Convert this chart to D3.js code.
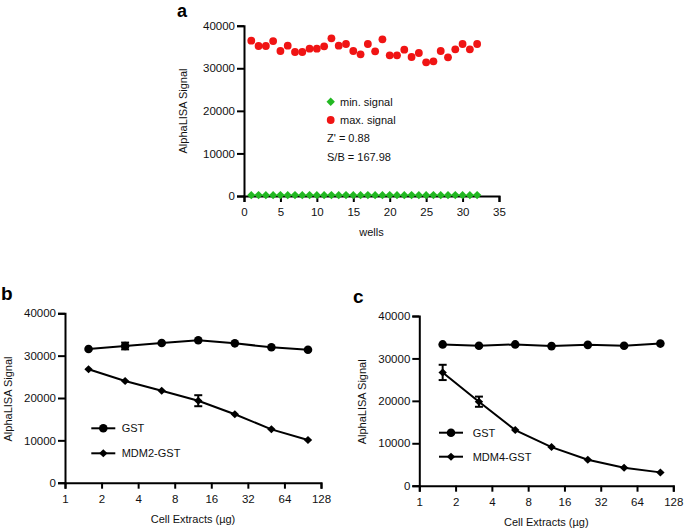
<!DOCTYPE html>
<html><head><meta charset="utf-8">
<script src="https://cdn.jsdelivr.net/npm/d3@7"></script>
<style>
html,body{margin:0;padding:0;background:#fff;}
svg text{font-family:"Liberation Sans",Arial,Helvetica,sans-serif;fill:#111;}
</style></head>
<body>
<svg id="c" width="685" height="529"></svg>
<script>
// ---------- data ----------
const wells = d3.range(1, 33);
const maxSignal = [36480,35230,35230,36400,34060,35310,33820,33820,34610,34610,35150,37030,35310,35700,34060,33280,35700,33980,36800,33040,33040,34370,32650,33590,31400,31630,34060,32570,34450,35700,34450,35700];
const minSignal = [205,210,200,205,208,202,206,204,207,203,205,209,201,206,204,205,207,203,205,208,202,204,206,205,203,207,205,204,206,203,205,207];
const yTicks = [0,10000,20000,30000,40000];
const wellTicks = [0,5,10,15,20,25,30,35];

const extracts = [1.5625, 3.125, 6.25, 12.5, 25, 50, 100];
const extractTicks = [1,2,4,8,16,32,64,128];
const bGST = [31570,32280,32990,33620,32910,31970,31400];
const bGSTerr = [0,800,0,0,0,0,0];
const bMDM2 = [26780,24010,21720,19360,16150,12600,10080];
const bMDM2err = [0,0,0,1300,0,0,0];
const cGST = [33300,33000,33300,32900,33200,33000,33500];
const cGSTerr = [0,0,0,0,0,0,0];
const cMDM4 = [26700,19800,13100,9100,6130,4240,3140];
const cMDM4err = [1800,1200,0,0,0,0,0];

const svg = d3.select("#c");
const FONT = 11.5;

function diamondPath(w, h){ return `M0,${-h}L${w},0L0,${h}L${-w},0Z`; }

function yAxisDraw(g, y, x0){
  const ax = g.append("g").attr("transform",`translate(${x0},0)`)
    .call(d3.axisLeft(y).tickValues(yTicks).tickSize(7).tickPadding(2).tickFormat(d3.format("d")));
  ax.select(".domain").attr("stroke","#000").attr("stroke-width",2);
  ax.selectAll(".tick line").attr("stroke","#000").attr("stroke-width",2);
  ax.selectAll(".tick text").attr("font-size",FONT).attr("fill","#111")
    .attr("font-family","Liberation Sans, Arial, sans-serif");
  return ax;
}
function xAxisDraw(g, x, y0, ticks, fmt){
  const ax = g.append("g").attr("transform",`translate(0,${y0})`)
    .call(d3.axisBottom(x).tickValues(ticks).tickSize(6).tickPadding(6).tickFormat(fmt));
  ax.select(".domain").attr("stroke","#000").attr("stroke-width",2);
  ax.selectAll(".tick line").attr("stroke","#000").attr("stroke-width",2);
  ax.selectAll(".tick text").attr("font-size",FONT).attr("fill","#111")
    .attr("font-family","Liberation Sans, Arial, sans-serif");
  return ax;
}

// ---------- panel a ----------
{
  const g = svg.append("g");
  const x = d3.scaleLinear().domain([0,35]).range([244,499]);
  const y = d3.scaleLinear().domain([0,40000]).range([196,25.7]);
  xAxisDraw(g, x, y(0), wellTicks, d3.format("d"));
  yAxisDraw(g, y, x(0));
  g.append("g").selectAll("path").data(wells).join("path")
    .attr("d", diamondPath(4.2,4.2))
    .attr("transform",(d,i)=>`translate(${x(d)},${y(minSignal[i])})`)
    .attr("fill","#22b822");
  g.append("g").selectAll("circle").data(wells).join("circle")
    .attr("cx",d=>x(d)).attr("cy",(d,i)=>y(maxSignal[i])).attr("r",3.9)
    .attr("fill","#f01414");
  // legend
  g.append("path").attr("d",diamondPath(4.2,4.2)).attr("transform","translate(330.7,101.7)").attr("fill","#22b822");
  g.append("text").attr("x",340).attr("y",105.5).attr("font-size",11).text("min. signal");
  g.append("circle").attr("cx",330.7).attr("cy",120).attr("r",3.9).attr("fill","#f01414");
  g.append("text").attr("x",340).attr("y",124).attr("font-size",11).text("max. signal");
  g.append("text").attr("x",327).attr("y",142).attr("font-size",11).text("Z' = 0.88");
  g.append("text").attr("x",327).attr("y",160.5).attr("font-size",11).text("S/B = 167.98");
  g.append("text").attr("x",371.5).attr("y",236).attr("text-anchor","middle").attr("font-size",11).text("wells");
  g.append("text").attr("transform","translate(187,111) rotate(-90)").attr("text-anchor","middle").attr("font-size",11).text("AlphaLISA Signal");
  g.append("text").attr("x",177).attr("y",17).attr("font-size",18).attr("font-weight","bold").style("fill","#000").text("a");
}

function dosePanel(opt){
  const g = svg.append("g");
  const x = d3.scaleLog().base(2).domain([1,128]).range([opt.x0, opt.x1]);
  const y = d3.scaleLinear().domain([0,40000]).range([opt.y0, opt.y1]);
  xAxisDraw(g, x, y(0), extractTicks, d3.format("d"));
  yAxisDraw(g, y, x(1));
  const line = d3.line().x((d,i)=>x(extracts[i])).y(d=>y(d));
  const series = [
    {v:opt.s1, e:opt.e1, shape:"circle"},
    {v:opt.s2, e:opt.e2, shape:"diamond"}
  ];
  series.forEach(s=>{
    g.append("path").datum(s.v).attr("d",line).attr("fill","none").attr("stroke","#000").attr("stroke-width",2);
    const eb = g.append("g");
    s.v.forEach((v,i)=>{
      if(!s.e[i]) return;
      const cx = x(extracts[i]);
      eb.append("line").attr("x1",cx).attr("x2",cx).attr("y1",y(v-s.e[i])).attr("y2",y(v+s.e[i])).attr("stroke","#000").attr("stroke-width",2);
      [v-s.e[i], v+s.e[i]].forEach(t=>{
        eb.append("line").attr("x1",cx-4).attr("x2",cx+4).attr("y1",y(t)).attr("y2",y(t)).attr("stroke","#000").attr("stroke-width",2);
      });
    });
    if(s.shape==="circle"){
      g.append("g").selectAll("circle").data(s.v).join("circle")
        .attr("cx",(d,i)=>x(extracts[i])).attr("cy",d=>y(d)).attr("r",4.3).attr("fill","#000");
    } else {
      g.append("g").selectAll("path").data(s.v).join("path")
        .attr("d",diamondPath(4.2,4))
        .attr("transform",(d,i)=>`translate(${x(extracts[i])},${y(d)})`).attr("fill","#000");
    }
  });
  const L = opt.leg;
  g.append("line").attr("x1",L.x-12).attr("x2",L.x+12).attr("y1",L.y1).attr("y2",L.y1).attr("stroke","#000").attr("stroke-width",2);
  g.append("circle").attr("cx",L.x).attr("cy",L.y1).attr("r",4.3).attr("fill","#000");
  g.append("text").attr("x",L.tx).attr("y",L.y1+4).attr("font-size",11).text(opt.n1);
  g.append("line").attr("x1",L.x-12).attr("x2",L.x+12).attr("y1",L.y2).attr("y2",L.y2).attr("stroke","#000").attr("stroke-width",2);
  g.append("path").attr("d",diamondPath(4.2,4)).attr("transform",`translate(${L.x},${L.y2})`).attr("fill","#000");
  g.append("text").attr("x",L.tx).attr("y",L.y2+4).attr("font-size",11).text(opt.n2);
  g.append("text").attr("x",(opt.x0+opt.x1)/2).attr("y",opt.ty).attr("text-anchor","middle").attr("font-size",11).text("Cell Extracts (\u00b5g)");
  g.append("text").attr("transform",`translate(${opt.lx},${(opt.y0+opt.y1)/2+1}) rotate(-90)`).attr("text-anchor","middle").attr("font-size",11).text("AlphaLISA Signal");
  g.append("text").attr("x",opt.px).attr("y",opt.py).attr("font-size",19).attr("font-weight","bold").style("fill","#000").text(opt.label);
}

dosePanel({x0:65, x1:321, y0:482.7, y1:313.3, s1:bGST, e1:bGSTerr, s2:bMDM2, e2:bMDM2err,
  n1:"GST", n2:"MDM2-GST", leg:{x:103.3, tx:121.7, y1:428.3, y2:453.3}, ty:523, lx:12, label:"b", px:1, py:300});
dosePanel({x0:419.3, x1:673.3, y0:485.7, y1:316, s1:cGST, e1:cGSTerr, s2:cMDM4, e2:cMDM4err,
  n1:"GST", n2:"MDM4-GST", leg:{x:451, tx:472.7, y1:432.7, y2:456.7}, ty:525.5, lx:366, label:"c", px:353, py:303});
</script>
</body></html>
